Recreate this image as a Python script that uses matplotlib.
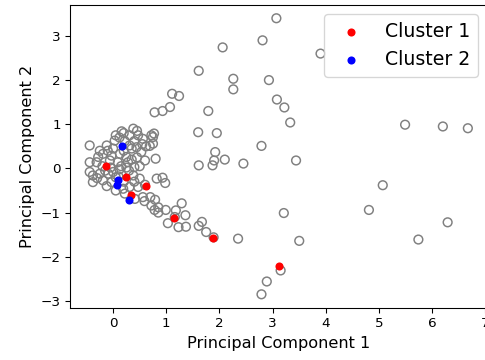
import matplotlib
matplotlib.use("Agg")
import matplotlib.pyplot as plt
import numpy as np

# All projected points (PC1, PC2)
pc1_all = [3.07, 2.81, 2.06, 3.90, 1.61, 2.26, 2.26, 2.93, 3.08, 3.22, 3.33, 5.49, 6.20, 6.67,
           2.79, 3.44, 2.45, 1.11, 1.24, 0.78, 0.93, 1.07, 1.79, 1.60, 1.95, 1.92, 1.90, 1.87,
           2.10, 1.61, 0.77, 0.75, 0.69, 0.60, 0.80, 0.93, 0.98, 0.70, 0.59, 0.79, 0.78, 0.85,
           0.99, 1.29, 1.18, 1.36, 1.03, 1.23, 1.37, 1.67, 1.61, 1.75, 2.35, 3.15, 2.89, 2.79,
           3.21, 3.50, 4.81, 5.07, 5.74, 6.29, 0.60, 1.16, 1.89,
           -0.44, 0.16, 0.38, 0.31, 0.47, 0.56, 0.72, 0.75, 0.03, -0.12, 0.00, 0.31, 0.44, 0.53,
           -0.19, -0.03, 0.13, 0.25, -0.28, -0.44, -0.31, -0.06, 0.09, 0.28,
           -0.38, -0.25, -0.09, 0.00, -0.38, -0.19, -0.03, 0.38, 0.50, 0.19, 0.31, 0.47, 0.22,
           0.41, 0.56, 0.72, 0.85, -0.44, 0.82,
           0.22, 0.12, 0.40, 0.62, -0.05, 0.12, 0.25, 0.40, -0.20, 0.50, 0.10, 0.30, -0.12,
           0.05, -0.25, 0.45,
           0.20, 0.45, 0.05, 0.35, 0.20, -0.10, 0.55, 0.35, 0.15, -0.15, 0.20, 0.40, 0.05, -0.30]
pc2_all = [3.40, 2.90, 2.74, 2.60, 2.21, 2.03, 1.79, 2.00, 1.56, 1.38, 1.04, 0.99, 0.95, 0.91,
           0.51, 0.18, 0.11, 1.69, 1.64, 1.27, 1.30, 1.39, 1.30, 0.82, 0.80, 0.37, 0.18, 0.07,
           0.20, 0.07, 0.79, 0.71, 0.51, 0.18, 0.22, -0.21, -0.33, -0.65, -0.74, -0.71, -0.94, -1.00,
           -0.94, -0.79, -0.95, -1.06, -1.24, -1.33, -1.32, -1.21, -1.30, -1.44, -1.59, -2.31, -2.56, -2.85,
           -1.01, -1.64, -0.94, -0.38, -1.61, -1.22, -0.37, -1.10, -1.56,
           0.52, 0.84, 0.90, 0.75, 0.75, 0.67, 0.75, 0.56, 0.63, 0.52, 0.45, 0.52, 0.48, 0.37,
           0.33, 0.29, 0.33, 0.26, 0.26, 0.14, 0.14, 0.18, 0.14, 0.14,
           -0.16, -0.12, -0.12, -0.08, -0.31, -0.27, -0.31, -0.16, -0.23, -0.46, -0.42, -0.42, -0.57,
           -0.69, -0.65, -0.84, -0.88, -0.08, -0.23,
           0.62, 0.70, 0.62, 0.50, 0.02, -0.02, 0.02, 0.03, 0.05, 0.05, -0.18, -0.05, -0.40,
           -0.50, 0.40, 0.25,
           0.80, 0.85, 0.75, 0.45, 0.40, 0.40, 0.55, 0.20, 0.05, -0.05, -0.30, -0.30, -0.20, -0.22]

# Cluster members
c1_pc1 = [-0.14, 0.25, 0.62, 0.33, 1.14, 1.87, 3.11]
c1_pc2 = [0.05, -0.20, -0.39, -0.61, -1.12, -1.58, -2.20]
c2_pc1 = [0.17, 0.09, 0.08, 0.29]
c2_pc2 = [0.51, -0.27, -0.37, -0.72]

labels = ["Cluster 1", "Cluster 2"]
colors = ["red", "blue"]

fig = plt.figure(figsize=(5.0, 360 / 97), dpi=97)
ax = fig.add_axes([70 / 485, 52 / 360, 417 / 485, 303 / 360])

ax.scatter(pc1_all, pc2_all, facecolors="none", edgecolors="gray", s=42, linewidths=1.1)
ax.scatter(c1_pc1, c1_pc2, c=colors[0], s=36, linewidths=0, label=labels[0])
ax.scatter(c2_pc1, c2_pc2, c=colors[1], s=36, linewidths=0, label=labels[1])

ax.set_xlim(-0.81, 7.03)
ax.set_ylim(-3.16, 3.70)
ax.set_xticks(range(0, 8))
ax.set_yticks(range(-3, 4))
ax.tick_params(labelsize=10)
ax.set_xlabel("Principal Component 1", fontsize=12)
ax.set_ylabel("Principal Component 2", fontsize=12)
ax.legend(loc="upper right", fontsize=14)

fig.savefig("out.png", dpi=97)
